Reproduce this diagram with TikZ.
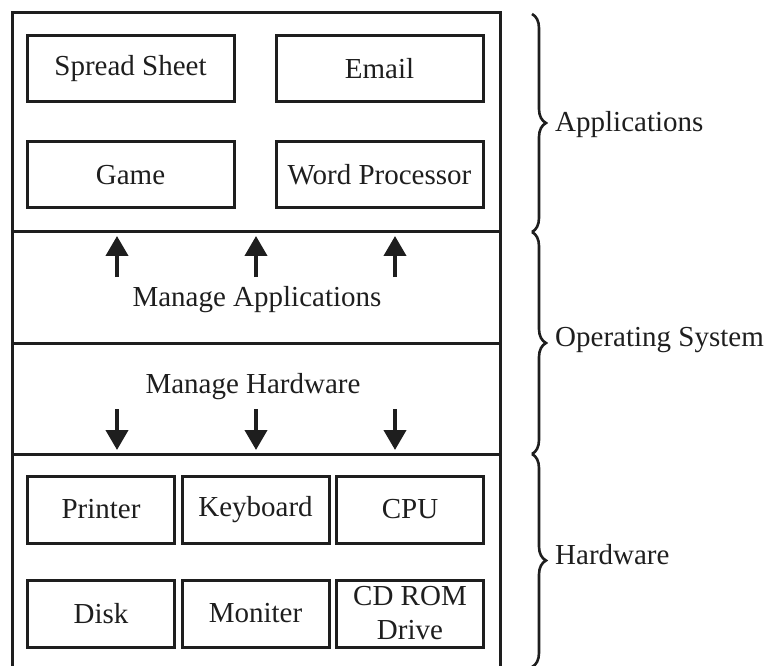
\documentclass[tikz,border=0pt]{standalone}
\usepackage{fontspec}
\setmainfont{Liberation Serif}
\usetikzlibrary{arrows.meta,decorations.pathreplacing}
\definecolor{ink}{HTML}{1E1E1E}
\begin{document}
\begin{tikzpicture}[x=1pt,y=-1pt,
  every node/.style={text=ink,font=\fontsize{29}{33}\selectfont},
  frame/.style={draw=ink,line width=3pt},
  appbox/.style={frame,minimum width=207pt,minimum height=66pt,inner sep=0pt},
  hwbox/.style={frame,minimum width=147pt,minimum height=67pt,inner sep=0pt,align=center},
  flow/.style={draw=ink,line width=4pt,-{Triangle[width=22pt,length=20pt]}},
  curly/.style={draw=ink,line width=2.6pt,decorate,decoration={brace,amplitude=14pt}},
  lbl/.style={anchor=west,inner sep=0pt}]
\useasboundingbox (0,0) rectangle (780,666);
% outer frame and layers
\draw[frame] (12,667) -- (12,13) -- (500,13) -- (500,667);
\draw[frame] (12,232) -- (500,232);
\draw[frame] (12,343) -- (500,343);
\draw[frame] (12,454) -- (500,454);
% applications
\node[appbox] (ss) at (130.5,69) {Spread Sheet};
\node[appbox] (em) at (379.5,69) {Email};
\node[appbox] (gm) at (130.5,175) {Game};
\node[appbox] (wp) at (379.5,175) {Word Processor};
% OS
\node (ma) at (257,300) {Manage Applications};
\node (mh) at (253,387) {Manage Hardware};
\coordinate (u1s) at (117,277); \coordinate (u1e) at (117,236);
\coordinate (u2s) at (256,277); \coordinate (u2e) at (256,236);
\coordinate (u3s) at (395,277); \coordinate (u3e) at (395,236);
\coordinate (d1s) at (117,409); \coordinate (d1e) at (117,450);
\coordinate (d2s) at (256,409); \coordinate (d2e) at (256,450);
\coordinate (d3s) at (395,409); \coordinate (d3e) at (395,450);
\draw[flow] (u1s) -- (u1e);
\draw[flow] (u2s) -- (u2e);
\draw[flow] (u3s) -- (u3e);
\draw[flow] (d1s) -- (d1e);
\draw[flow] (d2s) -- (d2e);
\draw[flow] (d3s) -- (d3e);
% hardware
\node[hwbox] (pr) at (101,509.5) {Printer};
\node[hwbox] (kb) at (255.5,509.5) {\raisebox{2pt}{Keyboard}};
\node[hwbox] (cpu) at (410,509.5) {CPU};
\node[hwbox] (dk) at (101,613.5) {Disk};
\node[hwbox] (mo) at (255.5,613.5) {Moniter};
\node[hwbox] (cd) at (410,613.5) {CD ROM\\[1pt]Drive};
% braces
\coordinate (b0) at (532,14);
\coordinate (b1) at (532,232);
\coordinate (b2) at (532,454);
\coordinate (b3) at (532,667);
\draw[curly] (b0) -- (b1);
\draw[curly] (b1) -- (b2);
\draw[curly] (b2) -- (b3);
\node[lbl] (la) at (555,125) {Applications};
\node[lbl] (lo) at (555,340) {Operating System};
\node[lbl] (lh) at (555,555) {Hardware};
\end{tikzpicture}
\end{document}
